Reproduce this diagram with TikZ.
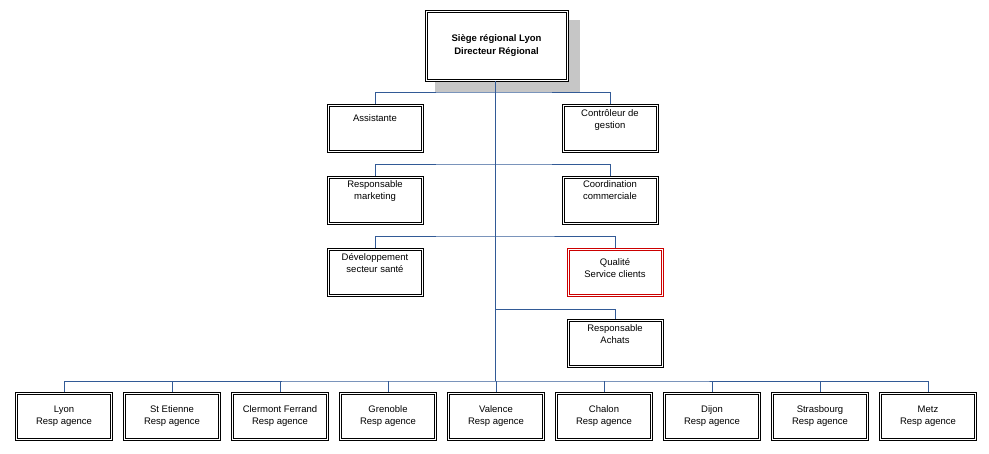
\documentclass[tikz,border=0pt]{standalone}
\usepackage{fontspec}
\setmainfont{Liberation Sans}
\definecolor{lnc}{RGB}{50,90,150}
\begin{document}
\begin{tikzpicture}[x=1pt,y=1pt,
 box/.style={draw=black,line width=0.8pt,minimum width=96pt,minimum height=48pt,inner sep=0pt,fill=white},
 rbox/.style={box,draw=red!80!black},
 inner/.style={draw=black,line width=0.8pt},
 txt/.style={anchor=north,align=center,font=\fontsize{9.5}{12}\selectfont,inner sep=0pt},
 ln/.style={draw=lnc,line width=0.6pt}]
\useasboundingbox (0,0) rectangle (989,-453);
\fill[gray!45] (435,-20) rectangle (580,-92);
\node[box,minimum width=143pt,minimum height=71pt] (top) at (496.5,-45.5) {};
\node[box] (as) at (375,-128.5) {};
\node[box] (cg) at (610,-128.5) {};
\node[box] (rm) at (375,-200) {};
\node[box] (cc) at (610,-200) {};
\node[box] (ds) at (375,-272.5) {};
\node[rbox] (qs) at (615,-272.5) {};
\node[box] (ra) at (615,-343.5) {};
\foreach \n [count=\i from 0] in {b1,b2,b3,b4,b5,b6,b7,b8,b9}{
  \node[box,minimum width=97pt] (\n) at (64+108*\i,-416.5) {};
}
\foreach \n in {top,as,cg,rm,cc,ds,ra,b1,b2,b3,b4,b5,b6,b7,b8,b9}{
  \draw[inner] ([shift={(2.5pt,-2.5pt)}]\n.north west) rectangle ([shift={(-2.5pt,2.5pt)}]\n.south east);
}
\draw[inner,draw=red!80!black] ([shift={(2.5pt,-2.5pt)}]qs.north west) rectangle ([shift={(-2.5pt,2.5pt)}]qs.south east);
\node[txt,anchor=center,font=\bfseries\fontsize{9.5}{13}\selectfont] (topt) at (top) {Siège régional Lyon\\Directeur Régional};
\node[txt] (ast) at ([yshift=-10pt]as.north) {Assistante};
\node[txt] (cgt) at ([yshift=-5pt]cg.north) {Contrôleur de\\gestion};
\node[txt] (rmt) at ([yshift=-5pt]rm.north) {Responsable\\marketing};
\node[txt] (cct) at ([yshift=-5pt]cc.north) {Coordination\\commerciale};
\node[txt] (dst) at ([yshift=-5pt]ds.north) {Développement\\secteur santé};
\node[txt] (qst) at ([yshift=-10pt]qs.north) {Qualité\\Service clients};
\node[txt] (rat) at ([yshift=-5pt]ra.north) {Responsable\\Achats};
\foreach \n/\lab in {b1/Lyon,b2/St Etienne,b3/Clermont Ferrand,b4/Grenoble,b5/Valence,b6/Chalon,b7/Dijon,b8/Strasbourg,b9/Metz}{
  \node[txt,anchor=center] (\n t) at (\n) {\lab\\Resp agence};
}
\coordinate (t1) at (495,-92);
\coordinate (t2) at (495,-164);
\coordinate (t3) at (495,-236);
\coordinate (t4) at (495,-309);
\coordinate (t5) at (495,-381);
\draw[ln] (top.south -| t1) -- (t5);
\draw[ln] (as.north) |- (t1) -| (cg.north);
\draw[ln] (rm.north) |- (t2) -| (cc.north);
\draw[ln] (ds.north) |- (t3) -| (qs.north);
\draw[ln] (t4) -| (ra.north);
\draw[ln] (b1.north) |- (t5) -| (b9.north);
\foreach \n in {b2,b3,b4,b5,b6,b7,b8}{\draw[ln] (\n.north) -- (\n.north |- t5);}
\end{tikzpicture}
\end{document}
